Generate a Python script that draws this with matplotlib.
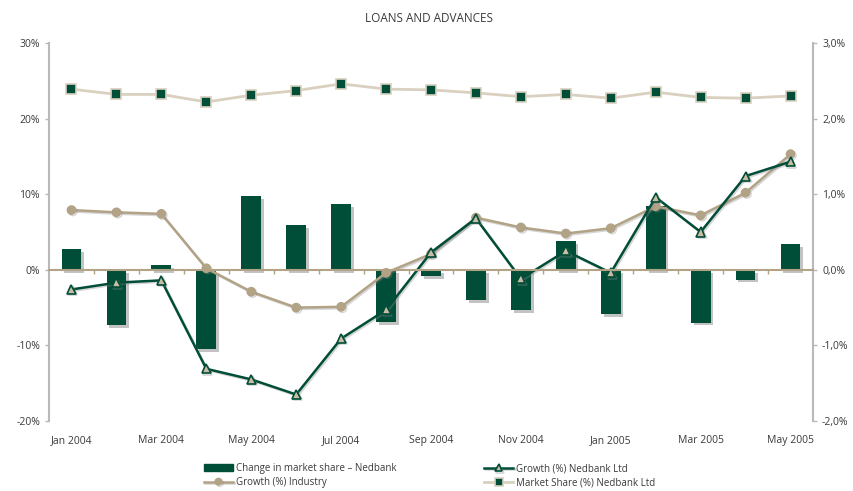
import numpy as np
import matplotlib
matplotlib.use("Agg")
import matplotlib.pyplot as plt
import matplotlib.patheffects as pe
from matplotlib.ticker import FuncFormatter

plt.rcParams['font.family'] = ['Open Sans', 'DejaVu Sans']

months = ["Jan 2004", "Feb 2004", "Mar 2004", "Apr 2004", "May 2004", "Jun 2004",
          "Jul 2004", "Aug 2004", "Sep 2004", "Oct 2004", "Nov 2004", "Dec 2004",
          "Jan 2005", "Feb 2005", "Mar 2005", "Apr 2005", "May 2005"]

# change in market share (right axis, %)
share_change = [0.27, -0.73, 0.06, -1.05, 0.97, 0.59, 0.87, -0.69, -0.08,
                -0.40, -0.53, 0.38, -0.59, 0.85, -0.70, -0.13, 0.34]
# growth and market share (left axis, %)
growth_nedbank = [-2.6, -1.7, -1.4, -13.1, -14.5, -16.5, -9.1, -5.3, 2.3,
                  6.8, -1.2, 2.5, -0.4, 9.6, 5.0, 12.4, 14.3]
growth_industry = [7.9, 7.6, 7.4, 0.2, -2.9, -5.0, -4.9, -0.4, 2.1,
                   6.9, 5.6, 4.8, 5.5, 8.4, 7.2, 10.2, 15.3]
market_share = [23.9, 23.2, 23.2, 22.2, 23.1, 23.7, 24.6, 23.9, 23.8,
                23.4, 22.9, 23.2, 22.7, 23.5, 22.8, 22.7, 23.0]

green = "#004d38"
tan = "#b2a386"
beige = "#d9d0bf"
spine = "#b9b9b9"
txt = "#3a3a3a"

x = np.arange(len(months))

fig = plt.figure(figsize=(8.54, 4.91), dpi=100)
ax = fig.add_axes([0.0574, 0.1426, 0.8946, 0.7698])
ax2 = ax.twinx()

# bars on right axis, drawn underneath the lines
ax2.set_zorder(1)
ax.set_zorder(2)
ax.patch.set_visible(False)

shadow = [pe.SimplePatchShadow(offset=(2, -2), shadow_rgbFace="#b5b5b5", alpha=0.8), pe.Normal()]
ax2.bar(x, share_change, width=0.44, color=green, path_effects=shadow, zorder=2)

line_shadow = [pe.SimpleLineShadow(offset=(1, -1), shadow_color="#888888", alpha=0.35), pe.Normal()]
l_share, = ax.plot(x, market_share, color=beige, lw=2, marker="s", ms=6.5,
                   mfc=green, mec=beige, mew=1.2, label="Market Share (%) Nedbank Ltd")
l_ind, = ax.plot(x, growth_industry, color=tan, lw=1.8, marker="o", ms=6,
                 mfc=tan, mec=tan, label="Growth (%) Industry", path_effects=line_shadow)
l_ned, = ax.plot(x, growth_nedbank, color=green, lw=1.8, marker="^", ms=6.5,
                 mfc="#c9bea3", mec=green, mew=1.2, label="Growth (%) Nedbank Ltd",
                 path_effects=line_shadow)

ax.set_xlim(-0.5, len(months) - 0.5)
ax.set_ylim(-20, 30)
ax2.set_ylim(-2, 3)
ax.set_yticks([-20, -10, 0, 10, 20, 30])
ax2.set_yticks([-2, -1, 0, 1, 2, 3])
ax.yaxis.set_major_formatter(FuncFormatter(lambda v, p: f"{v:.0f}%"))
ax2.yaxis.set_major_formatter(FuncFormatter(lambda v, p: f"{v:.1f}%".replace(".", ",")))

for a in (ax, ax2):
    a.spines["top"].set_visible(False)
    a.tick_params(axis="y", colors=spine, labelcolor=txt, labelsize=7.5, length=3, width=1)
ax.spines["left"].set_color(spine)
ax.spines["left"].set_linewidth(1.5)
ax.spines["right"].set_visible(False)
ax2.spines["left"].set_visible(False)
ax2.spines["right"].set_color(spine)
ax2.spines["right"].set_linewidth(1.5)
ax2.spines["bottom"].set_visible(False)

# zero line with small ticks between months
ax.spines["bottom"].set_position(("data", 0))
ax.spines["bottom"].set_color(tan)
ax.spines["bottom"].set_linewidth(1.5)
ax.set_xticks(x[:-1] + 0.5)
ax.set_xticklabels([])
ax.tick_params(axis="x", colors=tan, length=3, width=1, direction="out")

sec = ax.secondary_xaxis("bottom")
sec.set_xticks(x[::2])
sec.set_xticklabels(months[::2])
sec.tick_params(length=0, labelsize=7.5, labelcolor=txt, pad=10)
sec.spines["bottom"].set_visible(False)

fig.text(0.502, 0.963, "LOANS AND ADVANCES", ha="center", va="center", fontsize=8.5, color=txt)

bars_handle = plt.Rectangle((0, 0), 1, 1, color=green)
fig.legend([bars_handle, l_ind, l_ned, l_share],
           ["Change in market share – Nedbank", "Growth (%) Industry",
            "Growth (%) Nedbank Ltd", "Market Share (%) Nedbank Ltd"],
           loc="lower left", bbox_to_anchor=(0.2285, -0.012), ncol=2, frameon=False,
           fontsize=7, handlelength=3.0, handleheight=0.75, columnspacing=9.0,
           labelspacing=0.3, handletextpad=0.3, markerscale=0.8, labelcolor=txt)

fig.savefig("out.png", dpi=100)
